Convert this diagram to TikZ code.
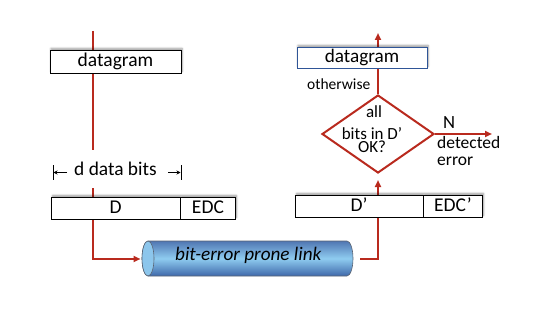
\documentclass[tikz,border=0pt]{standalone}
\usepackage{fontspec}
\setmainfont{Carlito}
\usetikzlibrary{arrows.meta,shapes.geometric,shapes.multipart,shadows.blur}
\definecolor{linkred}{RGB}{185,42,30}
\definecolor{boxblue}{RGB}{47,85,151}
\definecolor{cyltop}{RGB}{80,118,178}
\definecolor{cylbot}{RGB}{62,104,170}
\definecolor{cylmid}{RGB}{143,204,240}
\definecolor{cylcap}{RGB}{140,198,236}
\definecolor{cyledge}{RGB}{90,100,115}
\pgfdeclarelayer{bg}
\pgfsetlayers{bg,main}
\begin{document}
\begin{tikzpicture}[x=1pt,y=-1pt,
  txt/.style={inner sep=0pt, font=\fontsize{19.4}{21}\selectfont},
  small/.style={inner sep=0pt, font=\fontsize{15.5}{17}\selectfont},
  dtxt/.style={inner sep=0pt, font=\fontsize{17}{19}\selectfont},
  shad/.style={blur shadow={shadow xshift=1pt, shadow yshift=1.5pt, shadow opacity=40, shadow blur steps=6, shadow blur radius=2pt}},
  pkt/.style={draw=black, line width=0.9pt, fill=white, shad, inner sep=0pt,
              font=\fontsize{19.5}{21}\selectfont},
  split/.style={pkt, rectangle split, rectangle split horizontal, rectangle split parts=2},
  flow/.style={draw=linkred, line width=1.8pt},
  tip/.style={-{Triangle[length=7pt,width=6pt]}},
  dim/.style={draw=black, line width=1pt}
]
\useasboundingbox (0,0) rectangle (538,318);

% ---------- sender side ----------
\node[pkt, minimum width=131pt, minimum height=23pt] (dg1) at (115.5,61.5) {datagram};
\node[split] (pk1) at (143.5,208)
  {\rule[-6pt]{0pt}{22pt}\makebox[128pt]{D}\nodepart{two}\rule[-6pt]{0pt}{22pt}\makebox[55pt]{EDC}};

\node[txt, anchor=base west] (dbits) at (74,175.7) {d data bits};
\coordinate (lb1) at (53,165); \coordinate (lb2) at (53,180);
\coordinate (rb1) at (181,165); \coordinate (rb2) at (181,180);
\coordinate (la) at (67,172.5); \coordinate (lat) at (53.5,172.5);
\coordinate (ra) at (168,172.5); \coordinate (rat) at (180.5,172.5);
\draw[dim] (lb1) -- (lb2);
\draw[dim] (rb1) -- (rb2);
\draw[dim,-{Stealth[length=4pt,width=4pt]}] (la) -- (lat);
\draw[dim,-{Stealth[length=4pt,width=4pt]}] (ra) -- (rat);

% ---------- link ----------
\shade[top color=cyltop, bottom color=cylbot, middle color=cylmid, draw=cyledge, line width=0.6pt]
  (148,241) -- (347,241) arc[start angle=-90, end angle=90, x radius=6, y radius=17.5]
  -- (148,276) arc[start angle=90, end angle=270, x radius=6, y radius=17.5] -- cycle;
\filldraw[fill=cylcap, draw=cyledge, line width=0.6pt] (148,258.5) ellipse[x radius=6, y radius=17.5];
\node[inner sep=0pt, font=\fontsize{19.2}{21}\selectfont\itshape, anchor=base west] (link) at (175,260.7) {bit-error prone link};
\coordinate (linkw) at (140.5,259);
\coordinate (linke) at (360,259);

% ---------- receiver side ----------
\node[split] (pk2) at (389,206)
  {\rule[-6pt]{0pt}{22pt}\makebox[127pt]{D’}\nodepart{two}\rule[-6pt]{0pt}{22pt}\makebox[59pt]{EDC’}};
\node[diamond, draw=linkred, line width=2pt, fill=white, minimum width=112pt, minimum height=78pt, inner sep=0pt] (chk) at (378,134) {};
\node[dtxt, anchor=base] (all) at (374,117.7) {all};
\node[inner sep=0pt, align=center, font=\fontsize{17}{13}\selectfont] (bits) at (372,140.3) {bits in D’\\OK?};
\node[pkt, draw=boxblue, minimum width=130pt, minimum height=21pt, font=\fontsize{19.2}{21}\selectfont] (dg2) at (362,57.5) {datagram};
\node[small, anchor=base west] (oth) at (307,90) {otherwise};
\node[txt, font=\fontsize{18.6}{20}\selectfont, anchor=base west] (N) at (443,128.3) {N};
\node[txt, font=\fontsize{17.5}{19}\selectfont, anchor=base west] (det) at (437,148.3) {detected};
\node[txt, font=\fontsize{17.5}{19}\selectfont, anchor=base west] (err) at (437,165.7) {error};

\coordinate (ltop) at (93,31);
\coordinate (lgap1) at (93,150);
\coordinate (lgap2) at (93,188);
\coordinate (rtop) at (378,33);
\coordinate (rout) at (492,134);

\begin{pgfonlayer}{bg}
  \draw[flow] (ltop) -- (lgap1);
  \draw[flow, tip] (lgap2) |- (linkw);
  \draw[flow, tip, shorten >=6pt] (linke) -| (chk.south);
  \draw[flow, tip] (chk.north) -- (rtop);
  \draw[flow, tip] (chk.east) -- (rout);
\end{pgfonlayer}
\end{tikzpicture}
\end{document}
